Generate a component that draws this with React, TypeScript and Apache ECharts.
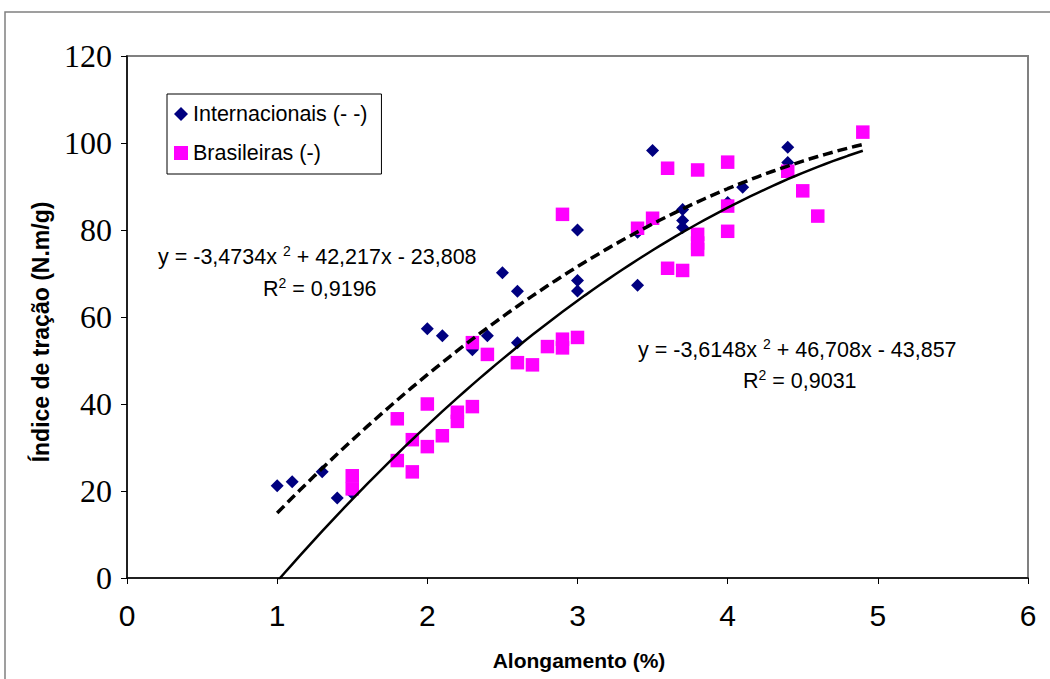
import React, { useEffect, useRef } from "react";
import * as echarts from "echarts";

const intlX = [1.0, 1.1, 1.3, 1.4, 1.5, 2.0, 2.1, 2.3, 2.4, 2.5, 2.6, 2.6, 3.0, 3.0, 3.0, 3.4, 3.4, 3.5, 3.7, 3.7, 3.7, 4.0, 4.1, 4.4, 4.4];
const intlY = [21.2, 22.1, 24.4, 18.4, 19.5, 57.3, 55.7, 52.5, 55.7, 70.2, 65.9, 54.1, 80.0, 68.4, 66.0, 79.5, 67.3, 98.3, 84.7, 82.2, 80.6, 86.3, 89.8, 99.0, 95.5];

const brX = [1.5, 1.5, 1.8, 1.8, 1.9, 1.9, 2.0, 2.0, 2.1, 2.2, 2.2, 2.3, 2.3, 2.4, 2.6, 2.7, 2.8, 2.9, 2.9, 2.9, 3.0, 3.4, 3.5, 3.6, 3.6, 3.7, 3.8, 3.8, 3.8, 3.8, 4.0, 4.0, 4.0, 4.4, 4.5, 4.6, 4.9];
const brY = [23.5, 20.5, 36.6, 27.0, 24.4, 31.8, 40.0, 30.2, 32.7, 38.1, 36.0, 39.4, 54.1, 51.4, 49.5, 49.0, 53.2, 54.9, 52.9, 83.6, 55.3, 80.4, 82.7, 94.2, 71.2, 70.7, 93.8, 79.0, 77.0, 75.5, 95.6, 85.5, 79.7, 93.5, 89.0, 83.2, 102.5];

// Trendline coefficients shown on the chart: y = a x^2 + b x + c
const intlCoef = [-3.4734, 42.217, -23.808];
const brCoef = [-3.6148, 46.708, -43.857];
const trendRange = [1.0, 4.9];

const xTicks = ["0", "1", "2", "3", "4", "5", "6"];
const yTicks = ["0", "20", "40", "60", "80", "100", "120"];

const seriesNames = ["Internacionais (- -)", "Brasileiras (-)"];
const eqIntl = ["y = -3,4734x ", " + 42,217x - 23,808", "0,9196"];
const eqBr = ["y = -3,6148x ", " + 46,708x - 43,857", "0,9031"];

function trend(coef: number[]) {
  const pts: number[][] = [];
  const n = 78;
  for (let i = 0; i <= n; i++) {
    const x = trendRange[0] + ((trendRange[1] - trendRange[0]) * i) / n;
    pts.push([x, coef[0] * x * x + coef[1] * x + coef[2]]);
  }
  return pts;
}

const sans = "Liberation Sans";
const rich = {
  n: { fontFamily: sans, fontSize: 21.5, lineHeight: 26, color: "#000" },
  s: { fontFamily: sans, fontSize: 14, lineHeight: 14, color: "#000", verticalAlign: "top" },
};

function eqText(x: number, y: number, parts: string[]) {
  return {
    type: "text",
    x,
    y,
    style: {
      text: `{n|${parts[0]}}{s|2}{n|${parts[1]}}`,
      rich,
      textAlign: "left",
      textVerticalAlign: "middle",
    },
  };
}
function r2Text(x: number, y: number, val: string) {
  return {
    type: "text",
    x,
    y,
    style: {
      text: `{n|R}{s|2}{n| = ${val}}`,
      rich,
      textAlign: "left",
      textVerticalAlign: "middle",
    },
  };
}

export default function App() {
  const ref = useRef<HTMLDivElement>(null);
  useEffect(() => {
    if (!ref.current) return;
    const chart = echarts.init(ref.current, undefined, { renderer: "svg" });
    chart.setOption({
      animation: false,
      backgroundColor: "#ffffff",
      grid: {
        left: 127,
        top: 56,
        right: 22,
        bottom: 101,
        show: true,
        borderColor: "#808080",
        borderWidth: 2,
        backgroundColor: "transparent",
      },
      xAxis: {
        type: "value",
        min: 0,
        max: 6,
        interval: 1,
        axisLine: { show: true, onZero: false, lineStyle: { color: "#000", width: 1.5 } },
        axisTick: { show: true, length: 6, lineStyle: { color: "#000", width: 1 } },
        splitLine: { show: false },
        axisLabel: {
          color: "#000",
          fontFamily: sans,
          fontSize: 30,
          margin: 22,
          formatter: (v: number) => xTicks[Math.round(v)] ?? "",
        },
      },
      yAxis: {
        type: "value",
        min: 0,
        max: 120,
        interval: 20,
        axisLine: { show: true, onZero: false, lineStyle: { color: "#000", width: 1.5 } },
        axisTick: { show: true, length: 6, lineStyle: { color: "#000", width: 1 } },
        splitLine: { show: false },
        axisLabel: {
          color: "#000",
          fontFamily: "Liberation Serif",
          fontSize: 32,
          margin: 15,
          formatter: (v: number) => yTicks[Math.round(v / 20)] ?? "",
        },
      },
      legend: {
        data: [
          { name: seriesNames[0], icon: "diamond" },
          { name: seriesNames[1], icon: "rect" },
        ],
        orient: "vertical",
        left: 167,
        top: 94,
        padding: [9, 14, 10, 7],
        itemGap: 17,
        itemWidth: 14,
        itemHeight: 14,
        borderColor: "#000",
        borderWidth: 1,
        borderRadius: 0,
        backgroundColor: "#fff",
        textStyle: { color: "#000", fontFamily: sans, fontSize: 21.5 },
      },
      graphic: [
        {
          type: "rect",
          silent: true,
          z: -10,
          shape: { x: 5, y: 12, width: 1200, height: 1000 },
          style: { fill: "none", stroke: "#808080", lineWidth: 1.5 },
        },
        eqText(158, 257, eqIntl),
        r2Text(263, 289, eqIntl[2]),
        eqText(638, 350, eqBr),
        r2Text(743, 381, eqBr[2]),
        {
          type: "text",
          x: 579,
          y: 660,
          style: { text: "Alongamento (%)", fill: "#000", font: `bold 21px "${sans}"`, textAlign: "center", textVerticalAlign: "middle" },
        },
        {
          type: "text",
          x: 41,
          y: 332,
          rotation: Math.PI / 2,
          style: { text: "Índice de tração (N.m/g)", fill: "#000", font: `bold 23px "${sans}"`, textAlign: "center", textVerticalAlign: "middle" },
        },
      ],
      series: [
        {
          name: seriesNames[0],
          type: "scatter",
          symbol: "diamond",
          symbolSize: 13,
          itemStyle: { color: "#000080", opacity: 1 },
          z: 2,
          data: intlX.map((x, i) => [x, intlY[i]]),
        },
        {
          name: seriesNames[1],
          type: "scatter",
          symbol: "rect",
          symbolSize: 13.5,
          itemStyle: { color: "#FF00FF", opacity: 1 },
          z: 3,
          data: brX.map((x, i) => [x, brY[i]]),
        },
        {
          name: "trend-intl",
          type: "line",
          showSymbol: false,
          symbol: "none",
          clip: true,
          z: 4,
          lineStyle: { color: "#000", width: 3.5, type: [10, 5] },
          data: trend(intlCoef),
        },
        {
          name: "trend-br",
          type: "line",
          showSymbol: false,
          symbol: "none",
          clip: true,
          z: 5,
          lineStyle: { color: "#000", width: 2.5, type: "solid" },
          data: trend(brCoef),
        },
      ],
    });
    return () => chart.dispose();
  }, []);
  return (
    <div
      ref={ref}
      style={{ position: "fixed", left: 0, top: 0, width: 1050, height: 679, background: "#fff" }}
    />
  );
}
